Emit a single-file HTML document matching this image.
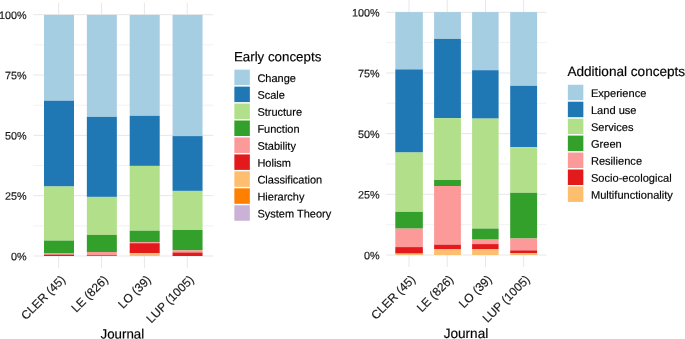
<!DOCTYPE html>
<html><head><meta charset="utf-8"><title>chart</title>
<style>
html,body{margin:0;padding:0;background:#fff;}
svg{display:block;font-family:"Liberation Sans",sans-serif;text-rendering:geometricPrecision;will-change:transform;opacity:0.999;}
</style></head><body>
<svg width="685" height="339" viewBox="0 0 685 339">
<rect width="685" height="339" fill="#fff"/>
<line x1="33.3" x2="213.3" y1="225.84" y2="225.84" stroke="#E7E7E7" stroke-width="0.55"/>
<line x1="33.3" x2="213.3" y1="165.51" y2="165.51" stroke="#E7E7E7" stroke-width="0.55"/>
<line x1="33.3" x2="213.3" y1="105.19" y2="105.19" stroke="#E7E7E7" stroke-width="0.55"/>
<line x1="33.3" x2="213.3" y1="44.86" y2="44.86" stroke="#E7E7E7" stroke-width="0.55"/>
<line x1="33.3" x2="213.3" y1="256" y2="256" stroke="#E7E7E7" stroke-width="1"/>
<line x1="33.3" x2="213.3" y1="195.68" y2="195.68" stroke="#E7E7E7" stroke-width="1"/>
<line x1="33.3" x2="213.3" y1="135.35" y2="135.35" stroke="#E7E7E7" stroke-width="1"/>
<line x1="33.3" x2="213.3" y1="75.02" y2="75.02" stroke="#E7E7E7" stroke-width="1"/>
<line x1="33.3" x2="213.3" y1="14.7" y2="14.7" stroke="#E7E7E7" stroke-width="1"/>
<line x1="58.7" x2="58.7" y1="2.7" y2="268" stroke="#E7E7E7" stroke-width="1"/>
<line x1="101.55" x2="101.55" y1="2.7" y2="268" stroke="#E7E7E7" stroke-width="1"/>
<line x1="144.4" x2="144.4" y1="2.7" y2="268" stroke="#E7E7E7" stroke-width="1"/>
<line x1="187.25" x2="187.25" y1="2.7" y2="268" stroke="#E7E7E7" stroke-width="1"/>
<rect x="44" y="14.9" width="30" height="85.8" fill="#A6CEE3"/>
<rect x="44" y="100.7" width="30" height="85.8" fill="#1F78B4"/>
<rect x="44" y="186.5" width="30" height="54.1" fill="#B2DF8A"/>
<rect x="44" y="240.6" width="30" height="12.4" fill="#33A02C"/>
<rect x="44" y="253" width="30" height="1.6" fill="#FB9A99"/>
<rect x="44" y="254.6" width="30" height="1.4" fill="#E31A1C"/>
<rect x="86.85" y="14.9" width="30" height="102" fill="#A6CEE3"/>
<rect x="86.85" y="116.9" width="30" height="80" fill="#1F78B4"/>
<rect x="86.85" y="196.9" width="30" height="38" fill="#B2DF8A"/>
<rect x="86.85" y="234.9" width="30" height="17.1" fill="#33A02C"/>
<rect x="86.85" y="252" width="30" height="2.9" fill="#FB9A99"/>
<rect x="86.85" y="254.9" width="30" height="1.1" fill="#EA5530"/>
<rect x="129.7" y="14.9" width="30" height="100.9" fill="#A6CEE3"/>
<rect x="129.7" y="115.8" width="30" height="50.1" fill="#1F78B4"/>
<rect x="129.7" y="165.9" width="30" height="64.8" fill="#B2DF8A"/>
<rect x="129.7" y="230.7" width="30" height="11.4" fill="#33A02C"/>
<rect x="129.7" y="242.1" width="30" height="1.1" fill="#FB9A99"/>
<rect x="129.7" y="243.2" width="30" height="10.1" fill="#E31A1C"/>
<rect x="129.7" y="253.3" width="30" height="2.7" fill="#FDBF6F"/>
<rect x="172.55" y="14.9" width="30" height="121.2" fill="#A6CEE3"/>
<rect x="172.55" y="136.1" width="30" height="54.8" fill="#1F78B4"/>
<rect x="172.55" y="190.9" width="30" height="39.1" fill="#B2DF8A"/>
<rect x="172.55" y="230" width="30" height="20.4" fill="#33A02C"/>
<rect x="172.55" y="250.4" width="30" height="2.1" fill="#FB9A99"/>
<rect x="172.55" y="252.5" width="30" height="3.5" fill="#E31A1C"/>
<text stroke-width="0.18" stroke="#111" x="26.6" y="260.2" text-anchor="end" font-size="10.8" fill="#1c1c1c" transform="rotate(0.03 26.6 260.2)">0%</text>
<text stroke-width="0.18" stroke="#111" x="26.6" y="199.88" text-anchor="end" font-size="10.8" fill="#1c1c1c" transform="rotate(0.03 26.6 199.88)">25%</text>
<text stroke-width="0.18" stroke="#111" x="26.6" y="139.55" text-anchor="end" font-size="10.8" fill="#1c1c1c" transform="rotate(0.03 26.6 139.55)">50%</text>
<text stroke-width="0.18" stroke="#111" x="26.6" y="79.22" text-anchor="end" font-size="10.8" fill="#1c1c1c" transform="rotate(0.03 26.6 79.22)">75%</text>
<text stroke-width="0.18" stroke="#111" x="26.6" y="18.9" text-anchor="end" font-size="10.8" fill="#1c1c1c" transform="rotate(0.03 26.6 18.9)">100%</text>
<text stroke-width="0.18" stroke="#111" x="66" y="280.4" text-anchor="end" font-size="12.0" fill="#1c1c1c" transform="rotate(-45 66 280.4)">CLER (45)</text>
<text stroke-width="0.18" stroke="#111" x="108.85" y="280.4" text-anchor="end" font-size="12.0" fill="#1c1c1c" transform="rotate(-45 108.85 280.4)">LE (826)</text>
<text stroke-width="0.18" stroke="#111" x="151.7" y="280.4" text-anchor="end" font-size="12.0" fill="#1c1c1c" transform="rotate(-45 151.7 280.4)">LO (39)</text>
<text stroke-width="0.18" stroke="#111" x="194.55" y="280.4" text-anchor="end" font-size="12.0" fill="#1c1c1c" transform="rotate(-45 194.55 280.4)">LUP (1005)</text>
<text stroke-width="0.18" stroke="#111" x="122.4" y="338.5" text-anchor="middle" font-size="13.33" fill="#000" transform="rotate(0.03 122.4 338.5)">Journal</text>
<text stroke-width="0.18" stroke="#111" x="233.9" y="61.2" font-size="13.33" fill="#000" transform="rotate(0.03 233.9 61.2)">Early concepts</text>
<rect x="234.35" y="69.65" width="15.5" height="15.5" fill="#A6CEE3"/>
<text stroke-width="0.18" stroke="#111" x="257.4" y="81.9" font-size="11.0" fill="#000" transform="rotate(0.03 257.4 81.9)">Change</text>
<rect x="234.35" y="86.6" width="15.5" height="15.5" fill="#1F78B4"/>
<text stroke-width="0.18" stroke="#111" x="257.4" y="98.85" font-size="11.0" fill="#000" transform="rotate(0.03 257.4 98.85)">Scale</text>
<rect x="234.35" y="103.55" width="15.5" height="15.5" fill="#B2DF8A"/>
<text stroke-width="0.18" stroke="#111" x="257.4" y="115.8" font-size="11.0" fill="#000" transform="rotate(0.03 257.4 115.8)">Structure</text>
<rect x="234.35" y="120.5" width="15.5" height="15.5" fill="#33A02C"/>
<text stroke-width="0.18" stroke="#111" x="257.4" y="132.75" font-size="11.0" fill="#000" transform="rotate(0.03 257.4 132.75)">Function</text>
<rect x="234.35" y="137.45" width="15.5" height="15.5" fill="#FB9A99"/>
<text stroke-width="0.18" stroke="#111" x="257.4" y="149.7" font-size="11.0" fill="#000" transform="rotate(0.03 257.4 149.7)">Stability</text>
<rect x="234.35" y="154.4" width="15.5" height="15.5" fill="#E31A1C"/>
<text stroke-width="0.18" stroke="#111" x="257.4" y="166.65" font-size="11.0" fill="#000" transform="rotate(0.03 257.4 166.65)">Holism</text>
<rect x="234.35" y="171.35" width="15.5" height="15.5" fill="#FDBF6F"/>
<text stroke-width="0.18" stroke="#111" x="257.4" y="183.6" font-size="11.0" fill="#000" transform="rotate(0.03 257.4 183.6)">Classification</text>
<rect x="234.35" y="188.3" width="15.5" height="15.5" fill="#FF7F00"/>
<text stroke-width="0.18" stroke="#111" x="257.4" y="200.55" font-size="11.0" fill="#000" transform="rotate(0.03 257.4 200.55)">Hierarchy</text>
<rect x="234.35" y="205.25" width="15.5" height="15.5" fill="#CAB2D6"/>
<text stroke-width="0.18" stroke="#111" x="257.4" y="217.5" font-size="11.0" fill="#000" transform="rotate(0.03 257.4 217.5)">System Theory</text>
<line x1="386.1" x2="546.3" y1="224.66" y2="224.66" stroke="#E7E7E7" stroke-width="0.55"/>
<line x1="386.1" x2="546.3" y1="163.99" y2="163.99" stroke="#E7E7E7" stroke-width="0.55"/>
<line x1="386.1" x2="546.3" y1="103.31" y2="103.31" stroke="#E7E7E7" stroke-width="0.55"/>
<line x1="386.1" x2="546.3" y1="42.64" y2="42.64" stroke="#E7E7E7" stroke-width="0.55"/>
<line x1="386.1" x2="546.3" y1="255" y2="255" stroke="#E7E7E7" stroke-width="1"/>
<line x1="386.1" x2="546.3" y1="194.32" y2="194.32" stroke="#E7E7E7" stroke-width="1"/>
<line x1="386.1" x2="546.3" y1="133.65" y2="133.65" stroke="#E7E7E7" stroke-width="1"/>
<line x1="386.1" x2="546.3" y1="72.98" y2="72.98" stroke="#E7E7E7" stroke-width="1"/>
<line x1="386.1" x2="546.3" y1="12.3" y2="12.3" stroke="#E7E7E7" stroke-width="1"/>
<line x1="409" x2="409" y1="0" y2="267" stroke="#E7E7E7" stroke-width="1"/>
<line x1="447.2" x2="447.2" y1="0" y2="267" stroke="#E7E7E7" stroke-width="1"/>
<line x1="485.5" x2="485.5" y1="0" y2="267" stroke="#E7E7E7" stroke-width="1"/>
<line x1="523.7" x2="523.7" y1="0" y2="267" stroke="#E7E7E7" stroke-width="1"/>
<rect x="395.3" y="12.1" width="27.55" height="57.3" fill="#A6CEE3"/>
<rect x="395.3" y="69.4" width="27.55" height="83.1" fill="#1F78B4"/>
<rect x="395.3" y="152.5" width="27.55" height="59.4" fill="#B2DF8A"/>
<rect x="395.3" y="211.9" width="27.55" height="16.7" fill="#33A02C"/>
<rect x="395.3" y="228.6" width="27.55" height="18.5" fill="#FB9A99"/>
<rect x="395.3" y="247.1" width="27.55" height="6.5" fill="#E31A1C"/>
<rect x="395.3" y="253.6" width="27.55" height="1.4" fill="#FDBF6F"/>
<rect x="434.1" y="12.1" width="26.8" height="26.8" fill="#A6CEE3"/>
<rect x="434.1" y="38.9" width="26.8" height="79.2" fill="#1F78B4"/>
<rect x="434.1" y="118.1" width="26.8" height="61.9" fill="#B2DF8A"/>
<rect x="434.1" y="180" width="26.8" height="6" fill="#33A02C"/>
<rect x="434.1" y="186" width="26.8" height="58.7" fill="#FB9A99"/>
<rect x="434.1" y="244.7" width="26.8" height="4.3" fill="#E31A1C"/>
<rect x="434.1" y="249" width="26.8" height="6" fill="#FDBF6F"/>
<rect x="472.1" y="12.1" width="26.5" height="58.1" fill="#A6CEE3"/>
<rect x="472.1" y="70.2" width="26.5" height="48.4" fill="#1F78B4"/>
<rect x="472.1" y="118.6" width="26.5" height="110" fill="#B2DF8A"/>
<rect x="472.1" y="228.6" width="26.5" height="11" fill="#33A02C"/>
<rect x="472.1" y="239.6" width="26.5" height="4.5" fill="#FB9A99"/>
<rect x="472.1" y="244.1" width="26.5" height="4.9" fill="#E31A1C"/>
<rect x="472.1" y="249" width="26.5" height="6" fill="#FDBF6F"/>
<rect x="510.2" y="12.1" width="26.9" height="73.7" fill="#A6CEE3"/>
<rect x="510.2" y="85.8" width="26.9" height="61.4" fill="#1F78B4"/>
<rect x="510.2" y="147.2" width="26.9" height="45.6" fill="#B2DF8A"/>
<rect x="510.2" y="192.8" width="26.9" height="45.7" fill="#33A02C"/>
<rect x="510.2" y="238.5" width="26.9" height="11.9" fill="#FB9A99"/>
<rect x="510.2" y="250.4" width="26.9" height="2.6" fill="#E31A1C"/>
<rect x="510.2" y="253" width="26.9" height="2" fill="#FDBF6F"/>
<text stroke-width="0.18" stroke="#111" x="379.5" y="259.25" text-anchor="end" font-size="10.8" fill="#1c1c1c" transform="rotate(0.03 379.5 259.25)">0%</text>
<text stroke-width="0.18" stroke="#111" x="379.5" y="198.57" text-anchor="end" font-size="10.8" fill="#1c1c1c" transform="rotate(0.03 379.5 198.57)">25%</text>
<text stroke-width="0.18" stroke="#111" x="379.5" y="137.9" text-anchor="end" font-size="10.8" fill="#1c1c1c" transform="rotate(0.03 379.5 137.9)">50%</text>
<text stroke-width="0.18" stroke="#111" x="379.5" y="77.23" text-anchor="end" font-size="10.8" fill="#1c1c1c" transform="rotate(0.03 379.5 77.23)">75%</text>
<text stroke-width="0.18" stroke="#111" x="379.5" y="16.55" text-anchor="end" font-size="10.8" fill="#1c1c1c" transform="rotate(0.03 379.5 16.55)">100%</text>
<text stroke-width="0.18" stroke="#111" x="416" y="280.1" text-anchor="end" font-size="12.0" fill="#1c1c1c" transform="rotate(-45 416 280.1)">CLER (45)</text>
<text stroke-width="0.18" stroke="#111" x="454.2" y="280.1" text-anchor="end" font-size="12.0" fill="#1c1c1c" transform="rotate(-45 454.2 280.1)">LE (826)</text>
<text stroke-width="0.18" stroke="#111" x="492.5" y="280.1" text-anchor="end" font-size="12.0" fill="#1c1c1c" transform="rotate(-45 492.5 280.1)">LO (39)</text>
<text stroke-width="0.18" stroke="#111" x="530.7" y="280.1" text-anchor="end" font-size="12.0" fill="#1c1c1c" transform="rotate(-45 530.7 280.1)">LUP (1005)</text>
<text stroke-width="0.18" stroke="#111" x="465.95" y="338" text-anchor="middle" font-size="13.6" fill="#000" transform="rotate(0.03 465.95 338)">Journal</text>
<text stroke-width="0.18" stroke="#111" x="567.4" y="75.9" font-size="13.58" fill="#000" transform="rotate(0.03 567.4 75.9)">Additional concepts</text>
<rect x="567.85" y="84.75" width="15.5" height="15.5" fill="#A6CEE3"/>
<text stroke-width="0.18" stroke="#111" x="590.9" y="97" font-size="11.1" fill="#000" transform="rotate(0.03 590.9 97)">Experience</text>
<rect x="567.85" y="101.7" width="15.5" height="15.5" fill="#1F78B4"/>
<text stroke-width="0.18" stroke="#111" x="590.9" y="113.95" font-size="11.1" fill="#000" transform="rotate(0.03 590.9 113.95)">Land use</text>
<rect x="567.85" y="118.65" width="15.5" height="15.5" fill="#B2DF8A"/>
<text stroke-width="0.18" stroke="#111" x="590.9" y="130.9" font-size="11.1" fill="#000" transform="rotate(0.03 590.9 130.9)">Services</text>
<rect x="567.85" y="135.6" width="15.5" height="15.5" fill="#33A02C"/>
<text stroke-width="0.18" stroke="#111" x="590.9" y="147.85" font-size="11.1" fill="#000" transform="rotate(0.03 590.9 147.85)">Green</text>
<rect x="567.85" y="152.55" width="15.5" height="15.5" fill="#FB9A99"/>
<text stroke-width="0.18" stroke="#111" x="590.9" y="164.8" font-size="11.1" fill="#000" transform="rotate(0.03 590.9 164.8)">Resilience</text>
<rect x="567.85" y="169.5" width="15.5" height="15.5" fill="#E31A1C"/>
<text stroke-width="0.18" stroke="#111" x="590.9" y="181.75" font-size="11.1" fill="#000" transform="rotate(0.03 590.9 181.75)">Socio-ecological</text>
<rect x="567.85" y="186.45" width="15.5" height="15.5" fill="#FDBF6F"/>
<text stroke-width="0.18" stroke="#111" x="590.9" y="198.7" font-size="11.1" fill="#000" transform="rotate(0.03 590.9 198.7)">Multifunctionality</text>
</svg>
</body></html>
